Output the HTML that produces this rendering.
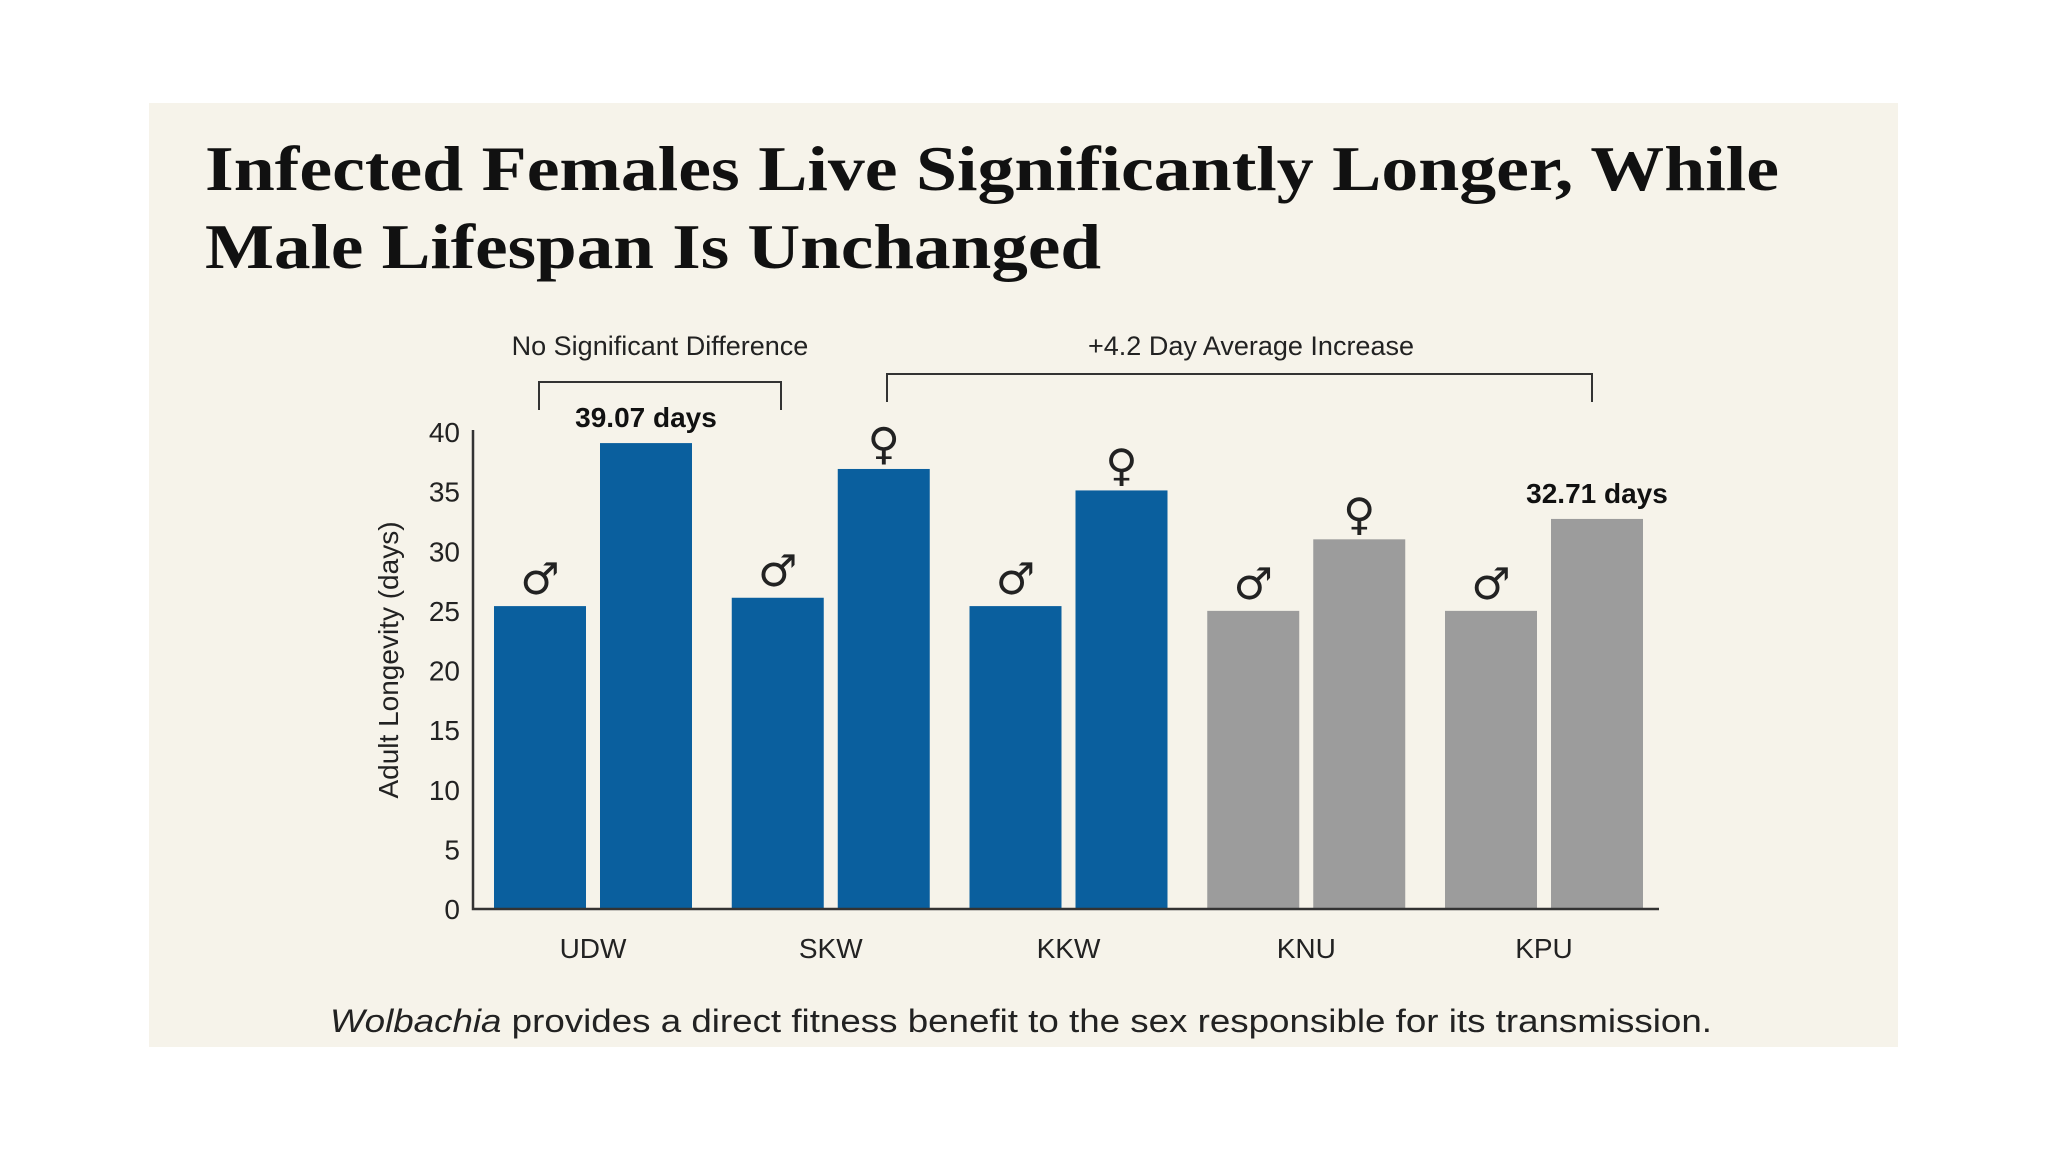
<!DOCTYPE html>
<html><head><meta charset="utf-8"><style>
html,body{margin:0;padding:0;background:#fff;}
svg{display:block;}
</style></head><body>
<svg width="2048" height="1152" viewBox="0 0 2048 1152">
<rect x="149" y="103" width="1749" height="944" fill="#f6f3ea"/>
<g font-family="'Liberation Serif', serif" font-weight="bold" fill="#111">
<text x="205" y="190" font-size="64" textLength="1574" lengthAdjust="spacingAndGlyphs">Infected Females Live Significantly Longer, While</text>
<text x="205" y="268" font-size="64" textLength="896" lengthAdjust="spacingAndGlyphs">Male Lifespan Is Unchanged</text>
</g>
<g id="plot" font-family="'Liberation Sans', sans-serif"></g>
<text x="1021" y="1032" text-anchor="middle" font-family="'Liberation Sans', sans-serif" font-size="32" fill="#222" textLength="1382" lengthAdjust="spacingAndGlyphs"><tspan font-style="italic">Wolbachia</tspan> provides a direct fitness benefit to the sex responsible for its transmission.</text>
</svg>
<script>
const categories = ['UDW','SKW','KKW','KNU','KPU'];
const maleValues = [25.4, 26.1, 25.4, 25.0, 25.0];
const femaleValues = [39.07, 36.9, 35.1, 31.0, 32.71];
const infected = [true, true, true, false, false];
const yTicks = [0,5,10,15,20,25,30,35,40];
const valueLabels = ['39.07 days', null, null, null, '32.71 days'];

const NS='http://www.w3.org/2000/svg';
const g=document.getElementById('plot');
const x0=473, x1=1659, y0=909, yTop=432, yMax=40;
const y=v=>y0-(v/yMax)*(y0-yTop);
const groupStart=i=>494+i*(1445-494)/4;
const barW=92, gap=14;
function el(tag,attrs,text){const e=document.createElementNS(NS,tag);for(const k in attrs)e.setAttribute(k,attrs[k]);if(text!=null)e.textContent=text;g.appendChild(e);return e;}

// y ticks
yTicks.forEach(t=>{
  const e=el('text',{x:460,y:y(t)+10,'text-anchor':'end','font-size':28,fill:'#222'},t);
  
  
});
const yt=el('text',{x:0,y:0,transform:'translate(398,660) rotate(-90)','text-anchor':'middle','font-size':28,fill:'#222'},'Adult Longevity (days)');



categories.forEach((c,i)=>{
  const gx=groupStart(i);
  const col=infected[i]?'#0a5f9e':'#9c9c9c';
  const mb=el('rect',{x:gx,y:y(maleValues[i]),width:barW,height:y0-y(maleValues[i]),fill:col});
  
  
  const fx=gx+barW+gap;
  const fb=el('rect',{x:fx,y:y(femaleValues[i]),width:barW,height:y0-y(femaleValues[i]),fill:col});
  
  
  const ms=el('text',{x:gx+barW/2,y:y(maleValues[i])-12,'text-anchor':'middle','font-family':"'DejaVu Sans', sans-serif",'font-size':44,fill:'#222'},'♂');
  
  
  if(valueLabels[i]){
    const vl=el('text',{x:fx+barW/2,y:y(femaleValues[i])-16,'text-anchor':'middle','font-size':28,'font-weight':'bold',fill:'#111'},valueLabels[i]);
    
    
  } else {
    const fs=el('text',{x:fx+barW/2,y:y(femaleValues[i])-10,'text-anchor':'middle','font-family':"'DejaVu Sans', sans-serif",'font-size':44,fill:'#222'},'♀');
    
    
  }
  const cl=el('text',{x:gx+barW+gap/2,y:958,'text-anchor':'middle','font-size':28,fill:'#222'},c);
  
  
});

const ax=el('path',{d:`M${x0} ${yTop-2} V${y0} H${x1}`,fill:'none',stroke:'#333','stroke-width':2.5});



const b1=el('path',{d:'M539 410 V382 H781 V410',fill:'none',stroke:'#333','stroke-width':2});


const b2=el('path',{d:'M887 402 V374 H1592 V402',fill:'none',stroke:'#333','stroke-width':2});


const a1=el('text',{x:660,y:355,'text-anchor':'middle','font-size':27,fill:'#222'},'No Significant Difference');


const a2=el('text',{x:1251,y:355,'text-anchor':'middle','font-size':27,fill:'#222'},'+4.2 Day Average Increase');


</script>
</body></html>
